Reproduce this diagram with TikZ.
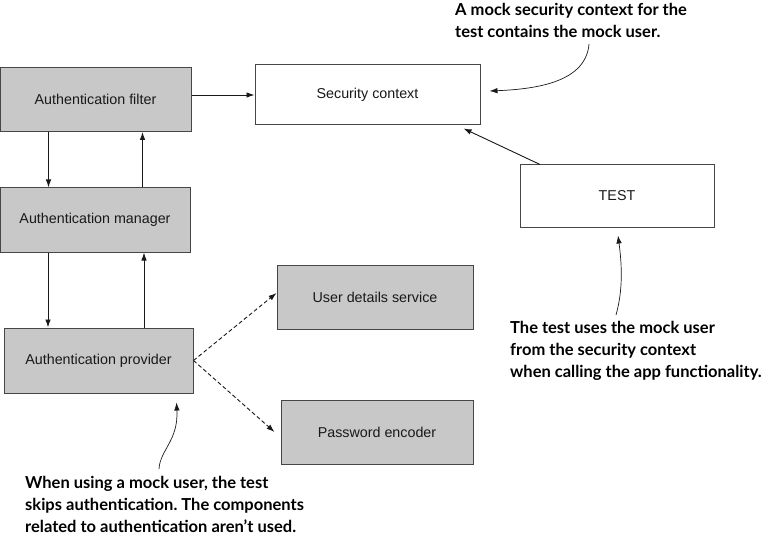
\documentclass[tikz,border=0pt]{standalone}
\usepackage{fontspec}
\setmainfont{Liberation Sans}
\newfontfamily\notefont{Lato}
\usepackage{xcolor}
\definecolor{boxgray}{RGB}{200,200,200}
\definecolor{edgegray}{RGB}{70,70,70}
\definecolor{ink}{RGB}{25,25,25}
\usepackage{tikz}
\usetikzlibrary{arrows.meta, positioning, calc}
\frenchspacing

\tikzset{
    compbox/.style={draw=edgegray, line width=1pt, fill=boxgray, font=\fontsize{14.3}{17}\selectfont, text=ink},
    plainbox/.style={compbox, fill=white},
    flow/.style={draw=ink, line width=0.9pt, -{Latex[length=8pt,width=5.5pt]}},
    uses/.style={flow, dashed, dash pattern=on 4pt off 2.5pt},
    note/.style={font=\notefont\bfseries\fontsize{16.5}{22}\selectfont, text=black, align=left, anchor=north west, inner sep=0pt},
    pointer/.style={draw=ink, line width=0.7pt, -{Latex[length=8pt,width=5.5pt]}}
}

\begin{document}
\begin{tikzpicture}[x=1pt, y=1pt]
        \useasboundingbox (0, 0) rectangle (775, -537);

        % Chaine d'authentification
        \node[compbox, minimum width=191pt, minimum height=64pt] (filter) at (95.5, -99.5) {Authentication filter};
        \node[compbox, minimum width=190pt, minimum height=64pt] (manager) at (95, -220) {Authentication manager};
        \node[compbox, minimum width=189pt, minimum height=65pt] (provider) at (98.5, -360.5) {Authentication provider};

        % Composants utilises par le provider
        \node[compbox, minimum width=196pt, minimum height=64pt] (userdet) at (375, -297) {User details service};
        \node[compbox, minimum width=192pt, minimum height=64pt] (pwenc) at (377, -432) {Password encoder};

        % Contexte et test
        \node[plainbox, minimum width=225pt, minimum height=60pt] (secctx) at (367.5, -95) {Security context};
        \node[plainbox, minimum width=194pt, minimum height=62pt] (test) at (617, -196) {TEST};

        % Fleches
        \draw[flow] (secctx.west -| filter.east) -- (secctx.west);
        \draw[flow] ([xshift=-47pt]filter.south) -- ([xshift=-47pt]filter.south |- manager.north);
        \draw[flow] ([xshift=47.5pt]manager.north) -- ([xshift=47.5pt]manager.north |- filter.south);
        \draw[flow] ([xshift=-47pt]manager.south) -- ([xshift=-47pt]manager.south |- provider.north);
        \draw[flow] ([xshift=49pt]manager.south |- provider.north) -- ([xshift=49pt]manager.south);
        \draw[uses] (provider.east) -- ([yshift=4pt]userdet.west);
        \draw[uses] (provider.east) -- ([xshift=-6pt]pwenc.west);
        \draw[flow] ([xshift=-77pt]test.north) -- ([xshift=-17pt,yshift=-3pt]secctx.south east);

        % Annotations
        \node[note] (ctxnote) at (455, -3) {A mock security context for the\\test contains the mock user.};
        \node[note] (testnote) at (510, -321) {The test uses the mock user\\from the security context\\when calling the app functionality.};
        \node[note] (authnote) at (25, -476) {When using a mock user, the test\\skips authentication. The components\\related to authentication aren’t used.};

        \draw[pointer] ([xshift=134pt,yshift=-41pt]ctxnote.north west) .. controls +(-3,-37) and +(50,2) .. ([xshift=9pt,yshift=4pt]secctx.east);
        \draw[pointer] ([xshift=106pt,yshift=6pt]testnote.north west) .. controls +(7,25) and +(4,-30) .. ([xshift=1pt,yshift=-8pt]test.south);
        \draw[pointer] ([xshift=134pt,yshift=7pt]authnote.north west) .. controls +(1,19) and +(2,-38) .. ([xshift=-17pt,yshift=-9pt]provider.south east);
\end{tikzpicture}
\end{document}
